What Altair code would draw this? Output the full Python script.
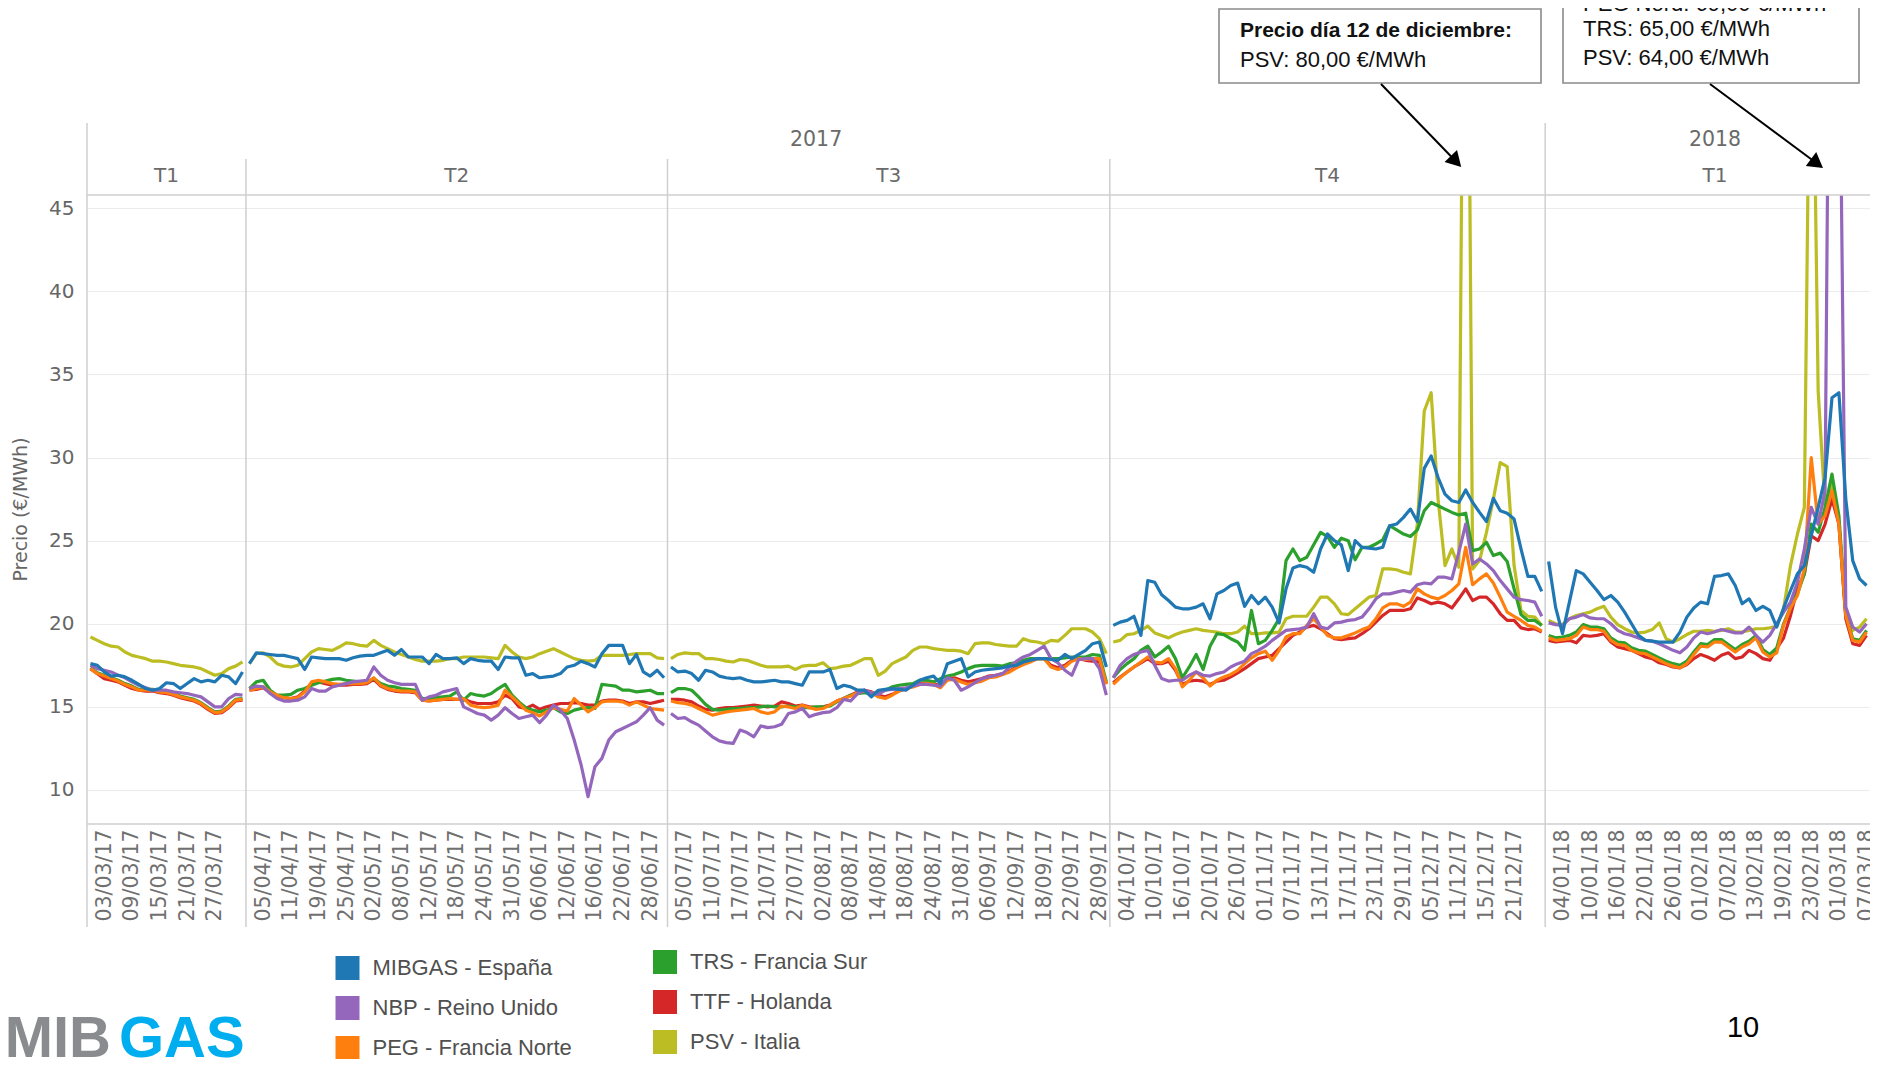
import altair as alt
import pandas as pd

# ---------------- categories ----------------
series = ["MIBGAS - España", "NBP - Reino Unido", "PEG - Francia Norte",
          "TRS - Francia Sur", "TTF - Holanda", "PSV - Italia"]
colors = ["#1f77b4", "#9467bd", "#ff7f0e", "#2ca02c", "#d62728", "#bcbd22"]
draw_order = ["PSV - Italia", "TTF - Holanda", "TRS - Francia Sur",
              "PEG - Francia Norte", "NBP - Reino Unido", "MIBGAS - España"]

holidays = ["2017-04-14", "2017-04-17", "2017-05-01", "2017-05-29",
            "2017-08-28", "2017-12-25", "2017-12-26", "2018-01-01"]
days = [d for d in pd.bdate_range("2017-03-01", "2018-03-07")
        if d.strftime("%Y-%m-%d") not in holidays]
dates = [d.strftime("%d/%m/%y") for d in days]
panes = [f"{d.year} T{(d.month - 1) // 3 + 1}" for d in days]

tick_labels = [
    "03/03/17", "09/03/17", "15/03/17", "21/03/17", "27/03/17",
    "05/04/17", "11/04/17", "19/04/17", "25/04/17", "02/05/17", "08/05/17", "12/05/17",
    "18/05/17", "24/05/17", "31/05/17", "06/06/17", "12/06/17", "16/06/17", "22/06/17", "28/06/17",
    "05/07/17", "11/07/17", "17/07/17", "21/07/17", "27/07/17", "02/08/17", "08/08/17", "14/08/17",
    "18/08/17", "24/08/17", "31/08/17", "06/09/17", "12/09/17", "18/09/17", "22/09/17", "28/09/17",
    "04/10/17", "10/10/17", "16/10/17", "20/10/17", "26/10/17", "01/11/17", "07/11/17", "13/11/17",
    "17/11/17", "23/11/17", "29/11/17", "05/12/17", "11/12/17", "15/12/17", "21/12/17",
    "04/01/18", "10/01/18", "16/01/18", "22/01/18", "26/01/18", "01/02/18", "07/02/18", "13/02/18",
    "19/02/18", "23/02/18", "01/03/18", "07/03/18"]
y_ticks = [10, 15, 20, 25, 30, 35, 40, 45]

# ---------------- series values (€/MWh) ----------------
mibgas = (
    [17.6, 17.5, 17.1, 16.85, 16.9, 16.8, 16.6, 16.35, 16.1, 16.0, 16.1, 16.45, 16.4, 16.1, 16.4,
     16.7, 16.5, 16.6, 16.5, 16.9, 16.8, 16.4, 17.1]
    + [17.6, 18.25, 18.2, 18.15, 18.1, 18.1, 18.0, 17.9, 17.25, 18.0,
       17.95, 17.9, 17.9, 17.9, 17.8, 17.95, 18.05, 18.1, 18.1, 18.25,
       18.4, 18.1, 18.45, 18.0, 18.0, 18.0, 17.6, 18.15, 17.9, 17.9,
       17.95, 17.6, 17.9, 17.8, 17.75, 17.75, 17.25, 18.0, 17.95, 17.95,
       16.9, 17.0, 16.75, 16.8, 16.85, 17.0, 17.4, 17.5, 17.75, 17.6,
       17.4, 18.2, 18.7, 18.7, 18.7, 17.6, 18.15, 17.1, 16.85, 17.2, 16.75]
    + [17.4, 17.1, 17.15, 17.0, 16.6, 17.2, 17.1, 16.85, 16.75, 16.7,
       16.75, 16.6, 16.5, 16.5, 16.55, 16.6, 16.5, 16.5, 16.4, 16.3,
       17.1, 17.1, 17.1, 17.25, 16.1, 16.3, 16.2, 16.0, 16.0, 15.6,
       16.0, 16.05, 16.1, 16.05, 16.0, 16.3, 16.6, 16.75, 16.85, 16.4,
       17.6, 17.75, 17.9, 16.8, 17.1, 17.2, 17.25, 17.3, 17.35, 17.45,
       17.5, 17.7, 17.8, 17.9, 17.9, 17.85, 17.8, 18.15, 17.9, 18.15,
       18.4, 18.8, 18.9, 17.4]
    + [19.9, 20.1, 20.2, 20.45, 19.3, 22.6, 22.5, 21.75, 21.4, 21.0,
       20.9, 20.9, 21.0, 21.2, 20.3, 21.8, 22.0, 22.3, 22.45, 21.05,
       21.7, 21.2, 21.6, 21.0, 20.05, 22.1, 23.35, 23.5, 23.4, 23.1,
       24.5, 25.4, 25.0, 24.75, 23.2, 25.0, 24.6, 24.55, 24.5, 24.6,
       25.9, 26.0, 26.4, 26.9, 26.15, 29.35, 30.1, 28.8, 27.8, 27.4,
       27.3, 28.05, 27.3, 26.7, 26.15, 27.55, 26.8, 26.65, 26.3, 24.5,
       22.85, 22.85, 21.95]
    + [23.75, 21.0, 19.4, 21.3, 23.2, 23.0, 22.5, 22.0, 21.45, 21.7,
       21.3, 20.7, 20.0, 19.3, 19.0, 18.95, 18.9, 18.9, 18.9, 19.5,
       20.4, 20.95, 21.3, 21.2, 22.85, 22.9, 23.0, 22.3, 21.2, 21.5,
       20.8, 21.05, 20.8, 19.8, 20.95, 22.0, 23.0, 23.5, 25.3, 27.0,
       28.8, 33.6, 33.9, 27.5, 23.8, 22.7, 22.3]
)
nbp = (
    [17.5, 17.3, 17.2, 17.1, 16.9, 16.75, 16.5, 16.3, 16.15, 16.0, 16.0, 16.0, 15.9, 15.85, 15.8,
     15.7, 15.6, 15.3, 15.0, 15.0, 15.5, 15.75, 15.7]
    + [16.1, 16.25, 16.2, 15.8, 15.5, 15.35, 15.35, 15.4, 15.6, 16.1,
       15.95, 15.95, 16.2, 16.3, 16.4, 16.5, 16.55, 16.6, 17.4, 16.9,
       16.6, 16.45, 16.35, 16.35, 16.35, 15.4, 15.6, 15.7, 15.9, 16.0,
       16.1, 15.0, 14.8, 14.6, 14.5, 14.2, 14.5, 14.95, 14.6, 14.3,
       14.4, 14.5, 14.05, 14.5, 15.1, 14.8, 14.3, 13.0, 11.5, 9.6,
       11.4, 11.9, 13.0, 13.5, 13.7, 13.9, 14.1, 14.5, 14.95, 14.2, 13.9]
    + [14.6, 14.3, 14.35, 14.1, 13.9, 13.55, 13.2, 12.95, 12.85, 12.8,
       13.6, 13.45, 13.2, 13.85, 13.75, 13.8, 13.95, 14.6, 14.7, 14.9,
       14.4, 14.55, 14.65, 14.7, 14.95, 15.45, 15.35, 15.8, 16.0, 15.85,
       15.75, 16.0, 16.05, 16.1, 16.15, 16.25, 16.35, 16.35, 16.3, 16.25,
       16.75, 16.6, 16.0, 16.2, 16.45, 16.7, 16.8, 16.9, 17.0, 17.4,
       17.75, 18.0, 18.15, 18.4, 18.65, 17.9, 17.65, 17.2, 16.9, 17.85,
       17.9, 17.9, 17.3, 15.7]
    + [16.75, 17.5, 17.9, 18.15, 18.3, 18.4, 17.5, 16.7, 16.55, 16.6,
       16.6, 16.9, 17.1, 16.9, 16.85, 17.0, 17.1, 17.4, 17.6, 17.75,
       18.2, 18.4, 18.65, 19.0, 19.3, 19.6, 19.65, 19.7, 19.8, 20.6,
       19.8, 19.7, 20.05, 20.1, 20.2, 20.25, 20.4, 20.9, 21.5, 21.8,
       21.8, 21.9, 22.0, 21.9, 22.35, 22.45, 22.4, 22.8, 22.8, 22.7,
       24.3, 26.0, 23.6, 23.9, 23.6, 23.2, 22.6, 22.1, 21.6, 21.45,
       21.4, 21.3, 20.45]
    + [20.05, 19.95, 19.9, 20.3, 20.4, 20.55, 20.35, 20.3, 20.3, 20.0,
       19.6, 19.4, 19.3, 19.15, 19.0, 18.95, 18.8, 18.6, 18.4, 18.25,
       18.6, 19.15, 19.5, 19.4, 19.5, 19.65, 19.55, 19.45, 19.45, 19.8,
       19.3, 18.9, 19.3, 20.0, 20.7, 21.3, 22.5, 24.5, 27.0, 26.0,
       28.0, 80.0, 60.0, 21.0, 19.8, 19.5, 20.0]
)
peg = (
    [17.3, 17.0, 16.85, 16.7, 16.55, 16.35, 16.2, 16.0, 16.0, 16.0, 15.9, 15.85, 15.75, 15.6, 15.5,
     15.4, 15.2, 14.9, 14.65, 14.7, 15.0, 15.4, 15.45]
    + [16.0, 16.1, 16.2, 15.9, 15.7, 15.55, 15.5, 15.55, 15.9, 16.5,
       16.6, 16.5, 16.4, 16.35, 16.4, 16.4, 16.4, 16.45, 16.75, 16.3,
       16.1, 16.0, 15.95, 15.95, 15.9, 15.4, 15.35, 15.4, 15.45, 15.5,
       15.45, 15.5, 15.1, 15.0, 14.95, 15.0, 15.1, 16.0, 15.6, 15.2,
       14.8, 14.65, 14.45, 14.7, 14.95, 14.85, 14.75, 15.5, 15.1, 14.7,
       14.95, 15.3, 15.35, 15.35, 15.3, 15.1, 15.3, 15.1, 14.9, 14.85, 14.8]
    + [15.35, 15.25, 15.2, 15.1, 14.9, 14.7, 14.5, 14.6, 14.7, 14.75,
       14.8, 14.85, 14.9, 14.7, 14.6, 14.7, 15.05, 15.0, 14.9, 15.1,
       14.95, 14.85, 14.9, 15.1, 15.35, 15.5, 15.65, 15.85, 15.95, 15.85,
       15.6, 15.5, 15.7, 15.95, 16.1, 16.2, 16.35, 16.4, 16.35, 16.15,
       16.6, 16.65, 16.5, 16.35, 16.45, 16.55, 16.75, 16.8, 16.95, 17.1,
       17.35, 17.55, 17.7, 17.9, 17.9, 17.4, 17.25, 17.4, 17.75, 17.9,
       17.85, 17.9, 17.9, 16.35]
    + [16.35, 16.75, 17.1, 17.4, 17.7, 18.0, 17.7, 17.65, 17.9, 17.3,
       16.2, 16.6, 17.1, 16.75, 16.25, 16.6, 16.8, 16.95, 17.2, 17.6,
       17.95, 18.2, 18.35, 17.8, 18.4, 19.2, 19.4, 19.4, 19.9, 20.3,
       19.8, 19.3, 19.15, 19.15, 19.3, 19.45, 19.65, 19.8, 20.3, 20.95,
       21.2, 21.2, 21.05, 21.3, 22.1, 21.8, 21.6, 21.5, 21.7, 22.0,
       22.4, 24.6, 22.35, 22.7, 23.0, 22.45, 21.6, 20.7, 20.45, 20.2,
       19.9, 19.8, 19.55]
    + [19.15, 19.0, 19.05, 19.1, 19.3, 19.8, 19.65, 19.65, 19.55, 19.0,
       18.75, 18.7, 18.4, 18.25, 18.2, 18.0, 17.8, 17.6, 17.45, 17.35,
       17.6, 18.15, 18.65, 18.6, 18.9, 18.9, 18.6, 18.3, 18.6, 18.8,
       19.15, 18.3, 18.0, 18.25, 19.9, 20.95, 21.7, 23.3, 30.0, 26.0,
       26.5, 28.0, 26.0, 20.5, 19.0, 18.9, 19.5]
)
trs = (
    [17.35, 17.05, 16.9, 16.75, 16.6, 16.4, 16.25, 16.05, 16.05, 16.05, 15.95, 15.9, 15.8, 15.65,
     15.55, 15.45, 15.25, 14.95, 14.7, 14.75, 15.05, 15.45, 15.5]
    + [16.1, 16.5, 16.6, 16.0, 15.7, 15.7, 15.75, 16.0, 16.1, 16.3,
       16.45, 16.55, 16.65, 16.7, 16.6, 16.55, 16.5, 16.5, 16.7, 16.4,
       16.25, 16.2, 16.1, 16.05, 16.0, 15.5, 15.5, 15.55, 15.6, 15.65,
       15.9, 15.4, 15.8, 15.7, 15.65, 15.8, 16.1, 16.35, 15.7, 15.3,
       14.95, 14.8, 14.7, 14.8, 14.95, 14.7, 14.6, 14.8, 14.9, 14.95,
       14.9, 16.35, 16.3, 16.25, 16.0, 16.0, 15.9, 15.95, 16.0, 15.8, 15.8]
    + [15.85, 16.1, 16.1, 16.0, 15.6, 15.15, 14.85, 14.8, 14.85, 14.9,
       14.9, 14.95, 14.95, 15.0, 15.05, 15.0, 15.0, 15.05, 15.0, 14.95,
       14.95, 15.0, 15.0, 15.05, 15.3, 15.5, 15.7, 15.8, 15.85, 15.8,
       15.85, 16.0, 16.2, 16.3, 16.35, 16.4, 16.6, 16.6, 16.5, 16.7,
       16.85, 16.95, 17.1, 17.3, 17.45, 17.5, 17.5, 17.5, 17.45, 17.6,
       17.65, 17.8, 17.9, 17.9, 17.9, 17.9, 17.9, 17.95, 18.0, 18.0,
       18.0, 18.15, 18.1, 16.5]
    + [16.75, 17.25, 17.6, 17.9, 18.4, 18.65, 18.0, 18.3, 18.65, 17.9,
       16.75, 17.4, 18.15, 17.25, 18.65, 19.4, 19.35, 19.1, 18.9, 18.4,
       20.8, 18.8, 19.0, 19.6, 20.3, 23.8, 24.5, 23.8, 24.0, 24.75,
       25.5, 25.25, 24.6, 25.15, 25.0, 23.85, 24.6, 24.6, 24.8, 25.05,
       25.9, 25.65, 25.4, 25.25, 25.65, 26.8, 27.3, 27.1, 26.9, 26.7,
       26.55, 26.65, 24.4, 24.5, 24.9, 24.1, 24.25, 23.75, 22.1, 20.55,
       20.2, 20.2, 19.9]
    + [19.3, 19.15, 19.2, 19.3, 19.5, 19.95, 19.8, 19.8, 19.7, 19.15,
       18.9, 18.85, 18.55, 18.4, 18.35, 18.15, 17.95, 17.75, 17.6, 17.5,
       17.75, 18.3, 18.8, 18.75, 19.05, 19.05, 18.75, 18.45, 18.75, 18.95,
       19.3, 18.45, 18.15, 18.55, 20.0, 21.0, 21.8, 23.0, 26.0, 25.5,
       27.0, 29.0, 26.5, 20.6, 19.1, 19.0, 19.6]
)
ttf = (
    [17.3, 17.0, 16.7, 16.6, 16.5, 16.3, 16.1, 16.0, 15.95, 15.95, 15.85, 15.8, 15.7, 15.55, 15.45,
     15.35, 15.15, 14.85, 14.6, 14.65, 14.95, 15.35, 15.4]
    + [16.0, 16.05, 16.15, 15.85, 15.65, 15.55, 15.5, 15.6, 15.95, 16.4,
       16.5, 16.4, 16.3, 16.3, 16.3, 16.35, 16.35, 16.4, 16.65, 16.25,
       16.05, 15.95, 15.9, 15.9, 15.85, 15.4, 15.35, 15.4, 15.45, 15.45,
       15.45, 15.45, 15.3, 15.2, 15.2, 15.2, 15.3, 15.7, 15.5, 15.0,
       14.9, 15.1, 14.85, 15.0, 15.1, 15.2, 15.2, 15.25, 15.2, 15.1,
       15.1, 15.35, 15.4, 15.4, 15.35, 15.2, 15.3, 15.3, 15.2, 15.3, 15.4]
    + [15.45, 15.45, 15.4, 15.3, 15.05, 14.85, 14.8, 14.9, 14.95, 14.95,
       15.0, 15.05, 15.1, 15.05, 15.0, 15.05, 15.3, 15.2, 15.05, 15.1,
       15.0, 14.95, 15.0, 15.1, 15.35, 15.5, 15.7, 15.9, 16.0, 15.9,
       15.7, 15.6, 15.75, 15.95, 16.1, 16.25, 16.4, 16.45, 16.4, 16.25,
       16.65, 16.75, 16.6, 16.5, 16.6, 16.7, 16.85, 16.9, 17.0, 17.15,
       17.4, 17.6, 17.75, 17.9, 17.9, 17.5, 17.35, 17.5, 17.8, 17.9,
       17.8, 17.75, 17.7, 16.4]
    + [16.45, 16.8, 17.1, 17.4, 17.65, 17.9, 17.6, 17.6, 17.75, 17.2,
       16.35, 16.55, 16.6, 16.55, 16.35, 16.55, 16.6, 16.8, 17.05, 17.3,
       17.6, 17.9, 18.0, 18.1, 18.5, 18.9, 19.3, 19.5, 19.8, 19.9,
       19.7, 19.4, 19.1, 19.05, 19.1, 19.15, 19.4, 19.7, 20.1, 20.5,
       20.8, 20.8, 20.8, 20.9, 21.55, 21.4, 21.2, 21.3, 21.2, 20.95,
       21.5, 22.1, 21.4, 21.6, 21.6, 21.2, 20.6, 20.2, 20.2, 19.75,
       19.65, 19.7, 19.5]
    + [19.0, 18.9, 18.95, 19.0, 18.85, 19.3, 19.25, 19.3, 19.4, 18.9,
       18.6, 18.5, 18.4, 18.2, 18.0, 17.9, 17.65, 17.55, 17.4, 17.35,
       17.55, 17.9, 18.15, 18.0, 17.8, 18.1, 18.25, 17.9, 18.0, 18.4,
       18.2, 17.9, 17.8, 18.5, 19.15, 20.5, 22.1, 23.0, 25.3, 25.0,
       26.0, 27.5, 26.0, 20.3, 18.8, 18.7, 19.3]
)
psv = (
    [19.2, 19.0, 18.8, 18.65, 18.6, 18.3, 18.1, 18.0, 17.9, 17.75, 17.75, 17.7, 17.6, 17.5, 17.45,
     17.4, 17.3, 17.1, 16.9, 17.0, 17.3, 17.45, 17.7]
    + [17.6, 18.2, 18.25, 18.0, 17.6, 17.45, 17.4, 17.5, 17.9, 18.3,
       18.5, 18.45, 18.4, 18.6, 18.85, 18.8, 18.7, 18.65, 19.0, 18.7,
       18.5, 18.3, 18.15, 18.0, 17.85, 17.75, 17.75, 17.75, 17.8, 17.9,
       17.9, 18.0, 18.0, 18.0, 18.0, 17.95, 17.9, 18.7, 18.3, 18.0,
       17.9, 18.0, 18.2, 18.35, 18.5, 18.3, 18.1, 17.9, 17.8, 17.75,
       17.8, 18.1, 18.1, 18.1, 18.1, 18.15, 18.2, 18.2, 18.2, 17.95, 17.9]
    + [17.9, 18.15, 18.25, 18.2, 18.2, 17.9, 17.9, 17.85, 17.75, 17.7,
       17.85, 17.8, 17.65, 17.5, 17.4, 17.4, 17.4, 17.45, 17.25, 17.45,
       17.5, 17.5, 17.65, 17.3, 17.35, 17.45, 17.5, 17.7, 17.9, 17.9,
       16.9, 17.15, 17.6, 17.8, 18.0, 18.4, 18.6, 18.6, 18.5, 18.45,
       18.4, 18.4, 18.35, 18.2, 18.8, 18.85, 18.85, 18.75, 18.7, 18.65,
       18.65, 19.1, 18.95, 18.9, 18.8, 19.0, 18.95, 19.3, 19.7, 19.7,
       19.7, 19.5, 19.1, 18.2]
    + [18.9, 19.0, 19.35, 19.4, 19.6, 19.85, 19.45, 19.3, 19.15, 19.35,
       19.5, 19.6, 19.7, 19.6, 19.55, 19.5, 19.4, 19.4, 19.5, 19.85,
       19.4, 19.4, 19.45, 19.45, 19.5, 20.3, 20.45, 20.45, 20.45, 21.0,
       21.6, 21.6, 21.2, 20.6, 20.55, 20.9, 21.25, 21.6, 21.7, 23.3,
       23.3, 23.25, 23.1, 23.0, 26.0, 32.8, 33.9, 27.5, 23.5, 24.5,
       23.4, 80.0, 23.3, 23.8, 25.5, 27.5, 29.7, 29.45, 23.5, 20.8,
       20.45, 20.4, 19.9]
    + [20.2, 20.0, 19.95, 20.3, 20.5, 20.6, 20.7, 20.9, 21.05, 20.4,
       19.95, 19.7, 19.5, 19.45, 19.5, 19.65, 20.05, 19.1, 18.9, 19.1,
       19.35, 19.55, 19.55, 19.6, 19.55, 19.6, 19.7, 19.5, 19.5, 19.6,
       19.7, 19.7, 19.75, 19.85, 20.9, 23.5, 25.4, 27.0, 64.0, 34.0,
       27.0, 28.5, 26.0, 20.5, 19.6, 19.8, 20.3]
)

values = dict(zip(series, [mibgas, nbp, peg, trs, ttf, psv]))
for name, vals in values.items():
    assert len(vals) == len(dates), (name, len(vals), len(dates))

rows = []
for name, vals in values.items():
    for d, p, v in zip(dates, panes, vals):
        rows.append({"fecha": d, "tramo": p, "serie": name, "precio": v})
df = pd.DataFrame(rows)

# ---------------- layout ----------------
W, H = 1783, 629
N = len(dates)
step = W / N
FONT_AX = "DejaVu Sans"
FONT_TX = "Liberation Sans"

pane_order = list(dict.fromkeys(panes))
counts = [panes.count(p) for p in pane_order]
starts = [sum(counts[:i]) for i in range(len(counts))]
pane_df = pd.DataFrame({
    "q": [p.split()[1] for p in pane_order],
    "year": [p.split()[0] for p in pane_order],
    "x0": [s * step for s in starts],
    "xc": [(s + c / 2) * step for s, c in zip(starts, counts)],
})
pane_df["first_of_year"] = ~pane_df["year"].duplicated()
pane_df["ytop"] = [-72 if f else -36 for f in pane_df["first_of_year"]]
pane_df["ybot"] = 732
# the last pane continues past the right edge of the picture
pane_df.loc[pane_df.index[-1], "xc"] = 1628

years = pane_df.groupby("year").agg(x0=("x0", "min")).reset_index()
year_ends = []
for y in years["year"]:
    last = pane_df[pane_df["year"] == y].index[-1]
    year_ends.append((starts[last] + counts[last]) * step)
years["xc"] = (years["x0"] + pd.Series(year_ends)) / 2
years.loc[years["year"] == "2018", "xc"] = 1628

x_enc = alt.X("fecha:O",
              scale=alt.Scale(type="point", domain=dates, padding=0.5),
              axis=alt.Axis(values=tick_labels, labelAngle=270, title=None, domain=False,
                            ticks=False, grid=False, labelPadding=5, labelFont=FONT_AX,
                            labelFontSize=20.5, labelColor="#707070", labelOverlap=False))
y_enc = alt.Y("precio:Q",
              scale=alt.Scale(domain=[7.95, 45.8], nice=False, zero=False),
              axis=alt.Axis(values=y_ticks, title=None, domain=False, ticks=False,
                            grid=True, gridColor="#ececec", gridWidth=1, labelPadding=13,
                            labelFont=FONT_AX, labelFontSize=20, labelColor="#666666"))
c_enc = alt.Color("serie:N", scale=alt.Scale(domain=series, range=colors), legend=None)

layers = []
for s in draw_order:
    layers.append(
        alt.Chart(df).transform_filter(alt.datum.serie == s)
        .mark_line(strokeWidth=3.2, clip=True, strokeJoin="round")
        .encode(x=x_enc, y=y_enc, color=c_enc, detail="tramo:N")
    )

px = lambda f: alt.X(f, scale=None, axis=None)
py = lambda f: alt.Y(f, scale=None, axis=None)

# pane separators
layers.append(alt.Chart(pane_df).mark_rule(color="#cfcfcf", strokeWidth=1.5).encode(
    x=px("x0:Q"), y=py("ytop:Q"), y2="ybot:Q"))
# header bottom line and x-axis line
hl = pd.DataFrame({"yy": [0, H]})
layers.append(alt.Chart(hl).mark_rule(color="#cfcfcf", strokeWidth=1.5).encode(
    x=alt.value(0), x2=alt.value(W), y=py("yy:Q")))
# headers
layers.append(alt.Chart(pane_df).mark_text(font=FONT_AX, fontSize=20, color="#6a6a6a",
                                           baseline="middle", align="center").encode(
    x=px("xc:Q"), y=alt.value(-19), text="q:N"))
layers.append(alt.Chart(years).mark_text(font=FONT_AX, fontSize=20.5, color="#6a6a6a",
                                         baseline="middle", align="center").encode(
    x=px("xc:Q"), y=alt.value(-55), text="year:N"))
# y title
layers.append(alt.Chart(pd.DataFrame({"t": ["Precio (€/MWh)"]})).mark_text(
    font=FONT_AX, fontSize=19, color="#666666", angle=270, baseline="middle",
    align="center").encode(x=alt.value(-66), y=alt.value(H / 2), text="t:N"))

# annotation boxes
boxes = pd.DataFrame({"x": [1132, 1476], "x2": [1454, 1772], "y": [-186, -260], "y2": [-112, -112]})
layers.append(alt.Chart(boxes).mark_rect(fill="white", stroke="#8a8a8a", strokeWidth=1.6).encode(
    x=px("x:Q"), x2="x2:Q", y=py("y:Q"), y2="y2:Q"))
bold_txt = pd.DataFrame({"t": ["Precio día 12 de diciembre:"], "x": [1153], "y": [-164]})
layers.append(alt.Chart(bold_txt).mark_text(font=FONT_TX, fontSize=21, fontWeight="bold",
                                            color="#111111", align="left", baseline="middle").encode(
    x=px("x:Q"), y=py("y:Q"), text="t:N"))
norm_txt = pd.DataFrame({
    "t": ["PSV: 80,00 €/MWh", "PEG Nord: 69,00 €/MWh", "TRS: 65,00 €/MWh", "PSV: 64,00 €/MWh"],
    "x": [1153, 1496, 1496, 1496], "y": [-135, -191, -166, -137]})
layers.append(alt.Chart(norm_txt).mark_text(font=FONT_TX, fontSize=22, color="#111111",
                                            align="left", baseline="middle").encode(
    x=px("x:Q"), y=py("y:Q"), text="t:N"))
# arrows
arrows = pd.DataFrame({"x": [1294, 1623], "y": [-111, -111], "x2": [1369, 1730], "y2": [-33.5, -31.5],
                       "ang": [136, 127]})
layers.append(alt.Chart(arrows).mark_rule(color="black", strokeWidth=2).encode(
    x=px("x:Q"), y=py("y:Q"), x2="x2:Q", y2="y2:Q"))
for _, r in arrows.iterrows():
    layers.append(alt.Chart(pd.DataFrame({"x": [r["x2"]], "y": [r["y2"]]})).mark_point(
        shape="triangle-up", filled=True, size=300, angle=float(r["ang"]), color="black",
        opacity=1).encode(x=px("x:Q"), y=py("y:Q")))

# legend
leg = pd.DataFrame({"serie": series})
leg["col"] = [i // 3 for i in range(len(series))]
leg["row"] = [i % 3 for i in range(len(series))]
leg["lx"] = [260.5 if c == 0 else 578 for c in leg["col"]]
leg["ly"] = [(773 if c == 0 else 767) + r * 40 for c, r in zip(leg["col"], leg["row"])]
leg["tx"] = [285.5 if c == 0 else 603 for c in leg["col"]]
layers.append(alt.Chart(leg).mark_square(size=24 * 24, opacity=1, filled=True).encode(
    x=px("lx:Q"), y=py("ly:Q"), color=c_enc))
layers.append(alt.Chart(leg).mark_text(font=FONT_TX, fontSize=22, color="#505050",
                                       align="left", baseline="middle").encode(
    x=px("tx:Q"), y=py("ly:Q"), text="serie:N"))

# logo and page number
layers.append(alt.Chart(pd.DataFrame({"t": ["MIB"]})).mark_text(
    font=FONT_TX, fontSize=58, fontWeight="bold", color="#898b8e", align="right",
    baseline="alphabetic").encode(x=alt.value(24), y=alt.value(862), text="t:N"))
layers.append(alt.Chart(pd.DataFrame({"t": ["GAS"]})).mark_text(
    font=FONT_TX, fontSize=58, fontWeight="bold", color="#00aeef", align="left",
    baseline="alphabetic").encode(x=alt.value(32), y=alt.value(862), text="t:N"))
layers.append(alt.Chart(pd.DataFrame({"t": ["10"]})).mark_text(
    font=FONT_TX, fontSize=29, color="#000000", align="center", baseline="middle").encode(
    x=alt.value(1656), y=alt.value(833), text="t:N"))

chart = alt.layer(*layers).properties(
    width=W, height=H,
    padding={"left": 79, "top": 187, "right": 0, "bottom": 235},
    autosize=alt.AutoSizeParams(type="none"),
    background="white",
).configure_view(stroke=None)

chart.save("out.html", embed_options={"renderer": "svg", "actions": False})
